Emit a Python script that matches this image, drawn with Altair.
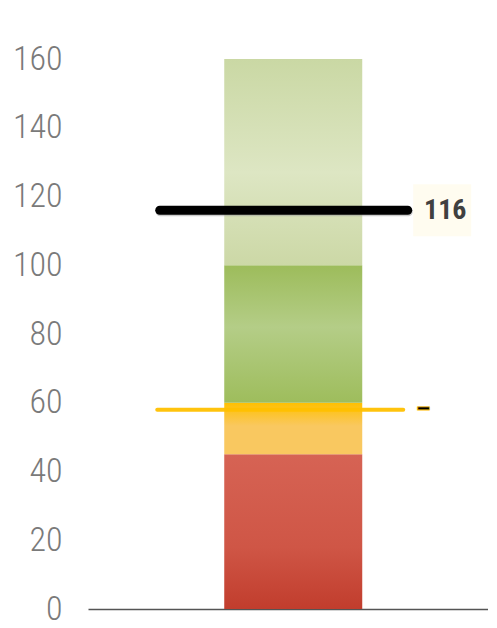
import altair as alt
import pandas as pd

# ---- data ----
category = ["Measure"]
band_starts = [0, 45, 60, 100]
band_ends = [45, 60, 100, 160]
target_value = [116]
marker_value = [58]
marker_label = ["–"]
y_ticks = [0, 20, 40, 60, 80, 100, 120, 140, 160]

# ---- styles ----
band_gradients = [
    [("#d66354", 0.0), ("#cf5646", 0.6), ("#c13d2d", 1.0)],
    [("#ffc000", 0.0), ("#f9c860", 0.45), ("#f9c860", 1.0)],
    [("#9dbc5b", 0.0), ("#b4cd87", 0.45), ("#9ebd5c", 1.0)],
    [("#cad8a4", 0.0), ("#dde6c3", 0.55), ("#ccd8a6", 1.0)],
]
NARROW = "Roboto Condensed, Liberation Sans Narrow, sans-serif"

x_scale = alt.Scale(paddingInner=0, paddingOuter=0.9493, align=0.52)
x_axis = alt.Axis(labels=False, ticks=False, title=None, grid=False,
                  domainColor="#555555", domainWidth=1.5)
y_scale = alt.Scale(domain=[0, 160], nice=False, zero=True)
y_axis = alt.Axis(values=y_ticks, title=None, domain=False, ticks=False, grid=False,
                  labelFont=NARROW, labelFontSize=34, labelFontWeight=300,
                  labelColor="#7a7a7a", labelPadding=26, labelAlign="right")

layers = []
for s, e, g in zip(band_starts, band_ends, band_gradients):
    df = pd.DataFrame({"cat": category, "start": [s], "end": [e]})
    grad = alt.Gradient(gradient="linear",
                        stops=[alt.GradientStop(color=c, offset=o) for c, o in g],
                        x1=0, x2=0, y1=0, y2=1)
    layers.append(
        alt.Chart(df).mark_bar(color=grad).encode(
            x=alt.X("cat:N", scale=x_scale, axis=x_axis),
            y=alt.Y("start:Q", scale=y_scale, axis=y_axis),
            y2="end:Q",
        )
    )

tdf = pd.DataFrame({"cat": category, "value": target_value})
mdf = pd.DataFrame({"cat": category, "value": marker_value, "label": marker_label})

def xl(bp):
    return alt.X("cat:N", bandPosition=bp, scale=x_scale, axis=x_axis)

def yv():
    return alt.Y("value:Q", scale=y_scale, axis=y_axis)

# marker (yellow) line
marker_line = alt.Chart(mdf).mark_rule(
    color="#ffc000", strokeWidth=4, strokeCap="round", opacity=0.95,
    xOffset=-67, x2Offset=41,
).encode(x=xl(0), x2=alt.X2("cat", bandPosition=1), y=yv())

marker_text = alt.Chart(mdf).mark_text(
    font=NARROW, fontSize=28, fontWeight="bold", color="#000000",
    stroke="#ffc000", strokeWidth=0.8,
    dx=61, baseline="middle", align="center",
).encode(x=xl(1), y=yv(), text="label:N")

# target (black) line with shadow
target_shadow = alt.Chart(tdf).mark_rule(
    color="#9a9a9a", strokeWidth=9, strokeCap="round", opacity=0.5,
    xOffset=-64, x2Offset=46, yOffset=1.5,
).encode(x=xl(0), x2=alt.X2("cat", bandPosition=1), y=yv())

target_line = alt.Chart(tdf).mark_rule(
    color="#000000", strokeWidth=9, strokeCap="round",
    xOffset=-64.5, x2Offset=45.5,
).encode(x=xl(0), x2=alt.X2("cat", bandPosition=1), y=yv())

label_box = alt.Chart(tdf).mark_rule(
    color="#fffcf0", strokeWidth=52, strokeCap="butt",
    xOffset=51, x2Offset=109,
).encode(x=xl(1), x2=alt.X2("cat", bandPosition=1), y=yv())

label_text = alt.Chart(tdf).mark_text(
    font=NARROW, fontSize=28, fontWeight="bold", color="#404040",
    dx=83, dy=1, baseline="middle", align="center",
).encode(x=xl(1), y=yv(), text=alt.Text("value:Q"))

chart = alt.layer(
    *layers, marker_line, marker_text, target_shadow, target_line, label_box, label_text
).properties(
    width=400, height=550,
    padding={"left": 80, "top": 51, "right": 0, "bottom": 19},
    autosize="none",
    background="white",
).configure_view(stroke=None)

chart.save("out.html", embed_options={"renderer": "svg", "actions": False})
